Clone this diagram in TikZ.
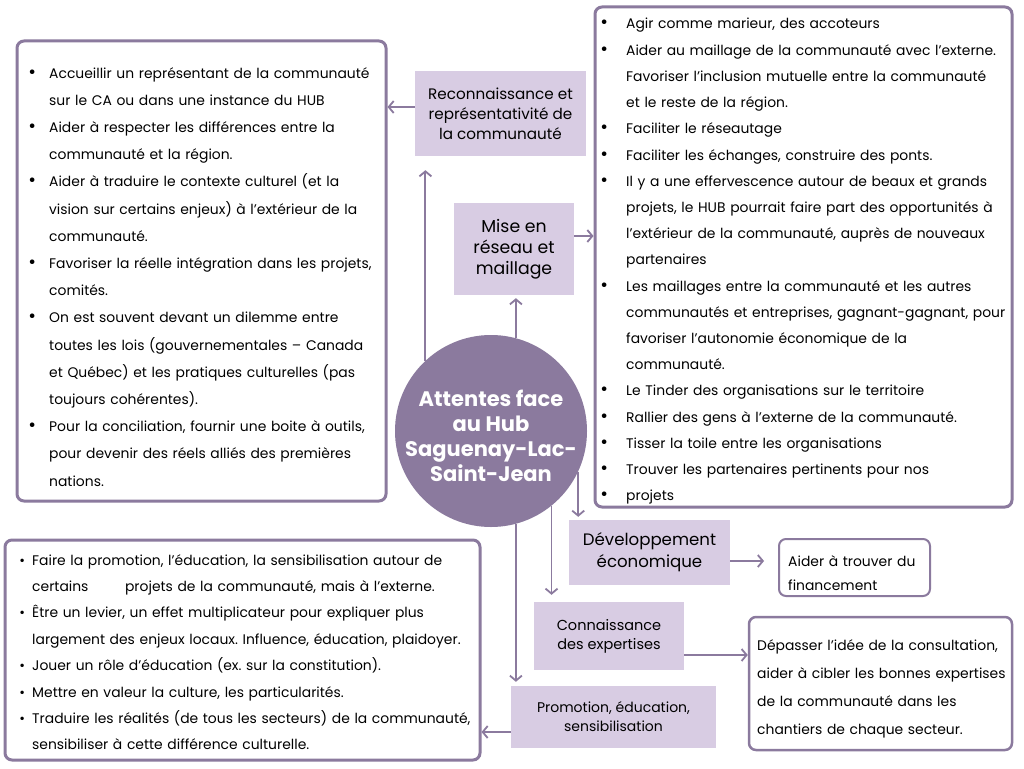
\documentclass[tikz,border=0pt]{standalone}
\usepackage{fontspec}
\setmainfont{Poppins}
\frenchspacing
\usetikzlibrary{arrows.meta}
\usetikzlibrary{positioning}
\definecolor{hubpurple}{HTML}{8B7A9E}
\definecolor{hublilac}{HTML}{D8CCE3}
\newlength\bulgap
\newcommand{\bulsize}{1}
\newcommand{\bul}{\leavevmode\llap{\scalebox{\bulsize}{\textbullet}\hspace{\bulgap}}}
\tikzset{link/.style = {draw=hubpurple, line width=1.8pt,
                        -{Straight Barb[length=5pt,width=12pt]}},
         theme/.style = {fill=hublilac, align=center, inner sep=0pt},
         frame/.style = {draw=hubpurple, line width=3pt, rounded corners=7pt, inner sep=0pt},
         listing/.style = {anchor=base west, align=left, text width=480pt, inner sep=0pt,
                           font=\fontsize{13.9}{#1}\selectfont},
         gap/.style 2 args = {execute at begin node={\setlength\bulgap{#1}\renewcommand{\bulsize}{#2}}}}

\begin{document}
\begin{tikzpicture}[x=1pt, y=-1pt]
    \useasboundingbox (0,0) rectangle (1024,768);
    \fill [white] (0,0) rectangle (1024,768);

    % frames
    \node [frame, minimum width=369pt, minimum height=460pt] (lbox) at (201.5,271) {};
    \node [frame, minimum width=417pt, minimum height=500pt] (rbox) at (803.5,257) {};
    \node [frame, minimum width=475pt, minimum height=220pt] (bbox) at (242.5,650) {};
    \node [frame, line width=2pt, minimum width=151pt, minimum height=57pt] (fbox) at (854.5,567.5) {};
    \node [frame, line width=2.5pt, minimum width=263pt, minimum height=133pt] (dbox) at (880.5,683.5) {};

    % themes
    \node [theme, minimum width=171pt, minimum height=85pt, font=\fontsize{15.2}{20}\selectfont]
      (rec) at (500.5,113.5) {Reconnaissance et\\représentativité de\\la communauté};
    \node [theme, minimum width=120pt, minimum height=92pt, font=\fontsize{17.3}{21}\selectfont]
      (mise) at (514,249) {Mise en\\réseau et\\maillage};
    \node [theme, minimum width=161pt, minimum height=65pt, font=\fontsize{16.6}{22}\selectfont]
      (dev) at (649.5,552.5) {Développement\\économique};
    \node [theme, minimum width=150pt, minimum height=68pt, font=\fontsize{14.5}{19}\selectfont]
      (con) at (609,636) {Connaissance\\des expertises};
    \node [theme, minimum width=205pt, minimum height=62pt, font=\fontsize{14}{19}\selectfont]
      (pro) at (613.5,717) {Promotion, éducation,\\sensibilisation};

    \node [circle, fill=hubpurple, minimum size=192pt, inner sep=0pt,
           label={[text=white, align=center, yshift=-5pt,
                   font=\fontsize{21}{25}\selectfont\bfseries]center:Attentes face\\au Hub\\Saguenay-Lac-\\Saint-Jean}]
      (hub) at (491,431) {};

    % lists
    \node [listing=27.2pt, gap={13pt}{1.35}] (ltxt) at (49,78) {%
      \bul Accueillir un représentant de la communauté\\
      sur le CA ou dans une instance du HUB\\
      \bul Aider à respecter les différences entre la\\
      communauté et la région.\\
      \bul Aider à traduire le contexte culturel (et la\\
      vision sur certains enjeux) à l’extérieur de la\\
      communauté.\\
      \bul Favoriser la réelle intégration dans les projets,\\
      comités.\\
      \bul On est souvent devant un dilemme entre\\
      toutes les lois (gouvernementales – Canada\\
      et Québec) et les pratiques culturelles (pas\\
      toujours cohérentes).\\
      \bul Pour la conciliation, fournir une boite à outils,\\
      pour devenir des réels alliés des premières\\
      nations.};
    \node [listing=26.2pt, gap={18pt}{1.35}] (rtxt) at (626,29) {%
      \bul Agir comme marieur, des accoteurs\\
      \bul Aider au maillage de la communauté avec l’externe.\\
      Favoriser l’inclusion mutuelle entre la communauté\\
      et le reste de la région.\\
      \bul Faciliter le réseautage\\
      \bul Faciliter les échanges, construire des ponts.\\
      \bul Il y a une effervescence autour de beaux et grands\\
      projets, le HUB pourrait faire part des opportunités à\\
      l’extérieur de la communauté, auprès de nouveaux\\
      partenaires\\
      \bul Les maillages entre la communauté et les autres\\
      communautés et entreprises, gagnant-gagnant, pour\\
      favoriser l’autonomie économique de la\\
      communauté.\\
      \bul Le Tinder des organisations sur le territoire\\
      \bul Rallier des gens à l’externe de la communauté.\\
      \bul Tisser la toile entre les organisations\\
      \bul Trouver les partenaires pertinents pour nos\\
      \bul projets};
    \node [listing=26.4pt, gap={7pt}{1}] (btxt) at (32,565) {%
      \bul Faire la promotion, l’éducation, la sensibilisation autour de\\
      certains\hspace{32pt} projets de la communauté, mais à l’externe.\\
      \bul Être un levier, un effet multiplicateur pour expliquer plus\\
      largement des enjeux locaux. Influence, éducation, plaidoyer.\\
      \bul Jouer un rôle d’éducation (ex. sur la constitution).\\
      \bul Mettre en valeur la culture, les particularités.\\
      \bul Traduire les réalités (de tous les secteurs) de la communauté,\\
      sensibiliser à cette différence culturelle.};
    \node [listing=24pt] (ftxt) at (788,566) {Aider à trouver du\\financement};
    \node [listing=28.3pt] (dtxt) at (757,650) {%
      Dépasser l’idée de la consultation,\\
      aider à cibler les bonnes expertises\\
      de la communauté dans les\\
      chantiers de chaque secteur.};

    % connectors
    \draw [link, shorten >=14pt] (hub.133) -- (hub.133 |- rec.south);
    \draw [link, shorten >=3pt] (hub.75) -- (hub.75 |- mise.south);
    \draw [link, shorten >=3pt] (hub.-25) -- (hub.-25 |- dev.north);
    \draw [link, shorten >=7pt] (hub.-51) -- (hub.-51 |- con.north);
    \draw [link, shorten >=4pt] (hub.-75) -- (hub.-75 |- pro.north);
    \draw [link] ([yshift=6.5pt]rec.west) -- ([yshift=6.5pt]rec.west -| lbox.east);
    \draw [link] ([yshift=13pt]mise.east) -- ([yshift=13pt]mise.east -| rbox.west);
    \draw [link, shorten >=14pt] ([yshift=-8.5pt]dev.east) -- ([yshift=-8.5pt]dev.east -| fbox.west);
    \draw [link] ([yshift=-19pt]con.east) -- ([yshift=-19pt]con.east -| dbox.west);
    \draw [link] ([yshift=-15pt]pro.west) -- ([yshift=-15pt]pro.west -| bbox.east);
\end{tikzpicture}
\end{document}
